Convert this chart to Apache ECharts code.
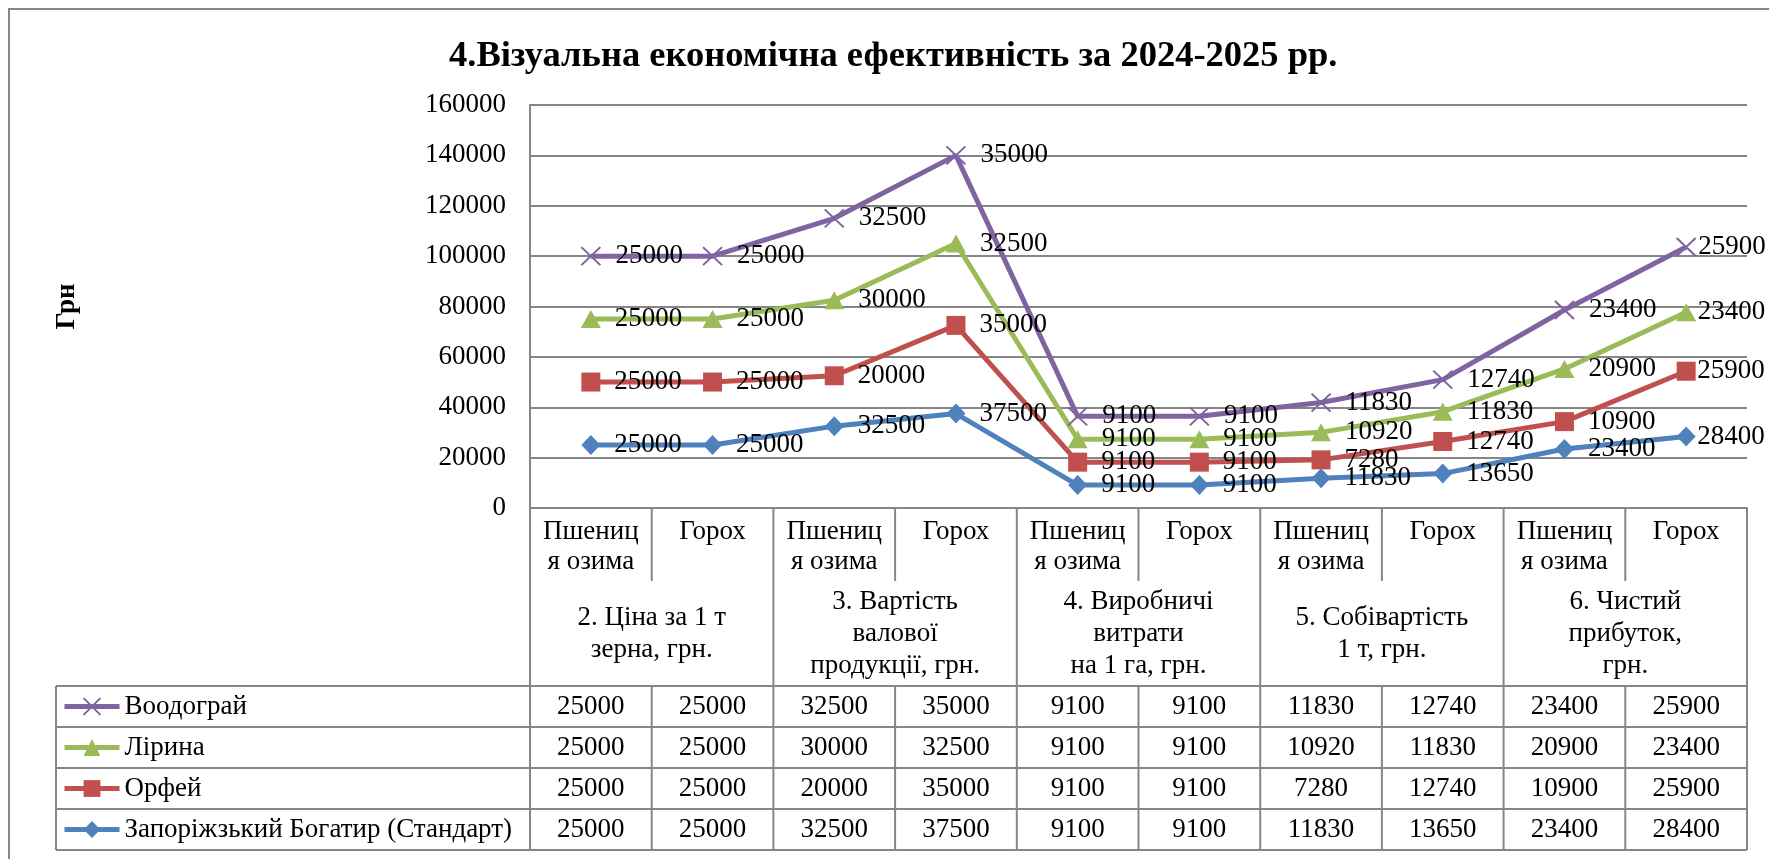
<!DOCTYPE html>
<html><head><meta charset="utf-8">
<script src="https://cdn.jsdelivr.net/npm/echarts@6/dist/echarts.min.js"></script>
<style>html,body{margin:0;padding:0;background:#fff}#c{width:1769px;height:859px}</style>
</head><body><div id="c"></div>
<script>
// ---- data ----
const titleText = '4.Візуальна економічна ефективність за 2024-2025 рр.';
const yAxisName = 'Грн';
const categories = ['Пшениця озима','Горох','Пшениця озима','Горох','Пшениця озима','Горох','Пшениця озима','Горох','Пшениця озима','Горох'];
const groups = ['2. Ціна за 1 т\nзерна, грн.', '3. Вартість\nвалової\nпродукції, грн.', '4. Виробничі\nвитрати\nна 1 га, грн.', '5. Собівартість\n1 т, грн.', '6. Чистий\nприбуток,\nгрн.'];
const seriesNames = ['Воодограй', 'Лірина', 'Орфей', 'Запоріжзький Богатир (Стандарт)'];
const voodograi = [25000, 25000, 32500, 35000, 9100, 9100, 11830, 12740, 23400, 25900];
const lirina    = [25000, 25000, 30000, 32500, 9100, 9100, 10920, 11830, 20900, 23400];
const orfei     = [25000, 25000, 20000, 35000, 9100, 9100, 7280, 12740, 10900, 25900];
const zaporizkyi= [25000, 25000, 32500, 37500, 9100, 9100, 11830, 13650, 23400, 28400];
const yMin = 0, yMax = 160000, yStep = 20000;

// ---- style ----
const FONT = "'Liberation Serif','Times New Roman',serif";
const FS = 27;
const GRAY = '#868686';
const LW = 5;
const colors = {'Воодограй':'#8064A2','Лірина':'#9BBB59','Орфей':'#C0504D','Запоріжзький Богатир (Стандарт)':'#4F81BD'};
const symbols = {
  'Воодограй': {symbol:'path://M0,0L10,10M10,0L0,10', size:[19,18]},
  'Лірина': {symbol:'triangle', size:[20,18]},
  'Орфей': {symbol:'rect', size:19},
  'Запоріжзький Богатир (Стандарт)': {symbol:'diamond', size:[19,20]}
};
const valuesByName = {'Воодограй':voodograi,'Лірина':lirina,'Орфей':orfei,'Запоріжзький Богатир (Стандарт)':zaporizkyi};
const stackOrder = ['Запоріжзький Богатир (Стандарт)','Орфей','Лірина','Воодограй'];

const chart = echarts.init(document.getElementById('c'), null, {renderer:'canvas'});

const lastIdx = categories.length - 1;
const series = stackOrder.map(name => ({
  name, type:'line', stack:'total',
  data: valuesByName[name].map((v,i)=> i===lastIdx ? {value:v, label:{offset:[-12.5,0]}} : v),
  symbol: symbols[name].symbol, symbolSize: symbols[name].size, showSymbol:true,
  lineStyle:{color:colors[name], width:LW},
  itemStyle:{color:colors[name], borderColor:colors[name], borderWidth: name==='Воодограй'?2:0},
  label:{show:true, position:'right', distance:14, color:'#000', fontFamily:FONT, fontSize:FS},
  emphasis:{disabled:true}
}));

const GRID = {left:530, top:105, right:22, bottom:351};
const ROW_SUB = 73, DATA_TOP = 178, ROW_H = 41, LEG_LEFT = 56;
const axisY = 859 - GRID.bottom;
const rowCenters = seriesNames.map((n,r)=> axisY + DATA_TOP + r*ROW_H + ROW_H/2);

const legends = seriesNames.map((n,r)=>({
  data:[n], left:62, top: rowCenters[r]-13.5, padding:0, itemWidth:55, itemHeight:21,
  lineStyle:{width:LW},
  textStyle:{fontFamily:FONT, fontSize:FS, color:'#000', lineHeight:27}, selectedMode:false
}));

chart.setOption({
  animation:false,
  backgroundColor:'#fff',
  title:{text:titleText, left:449, top:38, padding:0, textStyle:{fontFamily:FONT, fontSize:36.5, fontWeight:'bold', color:'#000'}},
  legend: legends,
  grid: GRID,
  xAxis:{type:'category', data:categories, boundaryGap:true,
    axisLine:{show:true, lineStyle:{color:GRAY, width:2}}, axisTick:{show:false},
    axisLabel:{interval:0, margin:9, color:'#000', fontFamily:FONT, fontSize:FS, lineHeight:30,
      formatter: v => v==='Пшениця озима' ? 'Пшениц\nя озима' : v}},
  yAxis:{type:'value', min:yMin, max:yMax, interval:yStep,
    name:yAxisName, nameLocation:'middle', nameGap:449, nameRotate:90,
    nameTextStyle:{fontFamily:FONT, fontSize:FS, fontWeight:'bold', color:'#000'},
    axisLine:{show:true, lineStyle:{color:GRAY, width:2}},
    splitLine:{lineStyle:{color:GRAY, width:2}},
    axisLabel:{margin:24, color:'#000', fontFamily:FONT, fontSize:FS, formatter: v => String(v)}},
  series
});

// ---- data table drawn from the axis scale ----
const cx = categories.map((c,i)=> chart.convertToPixel({xAxisIndex:0}, i));
const colW = cx[1]-cx[0];
const bounds = [];
for (let b=0;b<=categories.length;b++) bounds.push(cx[0]-colW/2 + b*colW);
const y0 = chart.convertToPixel({yAxisIndex:0}, 0);
const subBottom = y0 + ROW_SUB, dataTop = y0 + DATA_TOP, tableBottom = dataTop + ROW_H*seriesNames.length;
const els = [];
const lineStyle = {stroke:GRAY, lineWidth:2};
bounds.forEach((x,b)=>{
  if (b%2===0) els.push({type:'line', shape:{x1:x,y1:y0,x2:x,y2:tableBottom}, style:lineStyle, silent:true});
  else {
    els.push({type:'line', shape:{x1:x,y1:y0,x2:x,y2:subBottom}, style:lineStyle, silent:true});
    els.push({type:'line', shape:{x1:x,y1:dataTop,x2:x,y2:tableBottom}, style:lineStyle, silent:true});
  }
});
els.push({type:'line', shape:{x1:LEG_LEFT,y1:dataTop,x2:LEG_LEFT,y2:tableBottom}, style:lineStyle, silent:true});
for (let k=0;k<=seriesNames.length;k++){
  const y = dataTop + k*ROW_H;
  els.push({type:'line', shape:{x1:LEG_LEFT,y1:y,x2:bounds[bounds.length-1],y2:y}, style:lineStyle, silent:true});
}
groups.forEach((g,gi)=>{
  els.push({type:'text', x:(bounds[2*gi]+bounds[2*gi+2])/2, y:(subBottom+dataTop)/2,
    style:{text:g, align:'center', verticalAlign:'middle', fontFamily:FONT, fontSize:FS, lineHeight:32, fill:'#000'}, silent:true});
});
seriesNames.forEach((n,r)=>{
  valuesByName[n].forEach((v,i)=>{
    els.push({type:'text', x:cx[i], y:rowCenters[r],
      style:{text:String(v), align:'center', verticalAlign:'middle', fontFamily:FONT, fontSize:FS, fill:'#000'}, silent:true});
  });
});
els.push({type:'rect', shape:{x:9,y:9,width:1800,height:900}, style:{fill:'none', stroke:GRAY, lineWidth:2}, silent:true, z:-1});
chart.setOption({graphic: els});
</script></body></html>
